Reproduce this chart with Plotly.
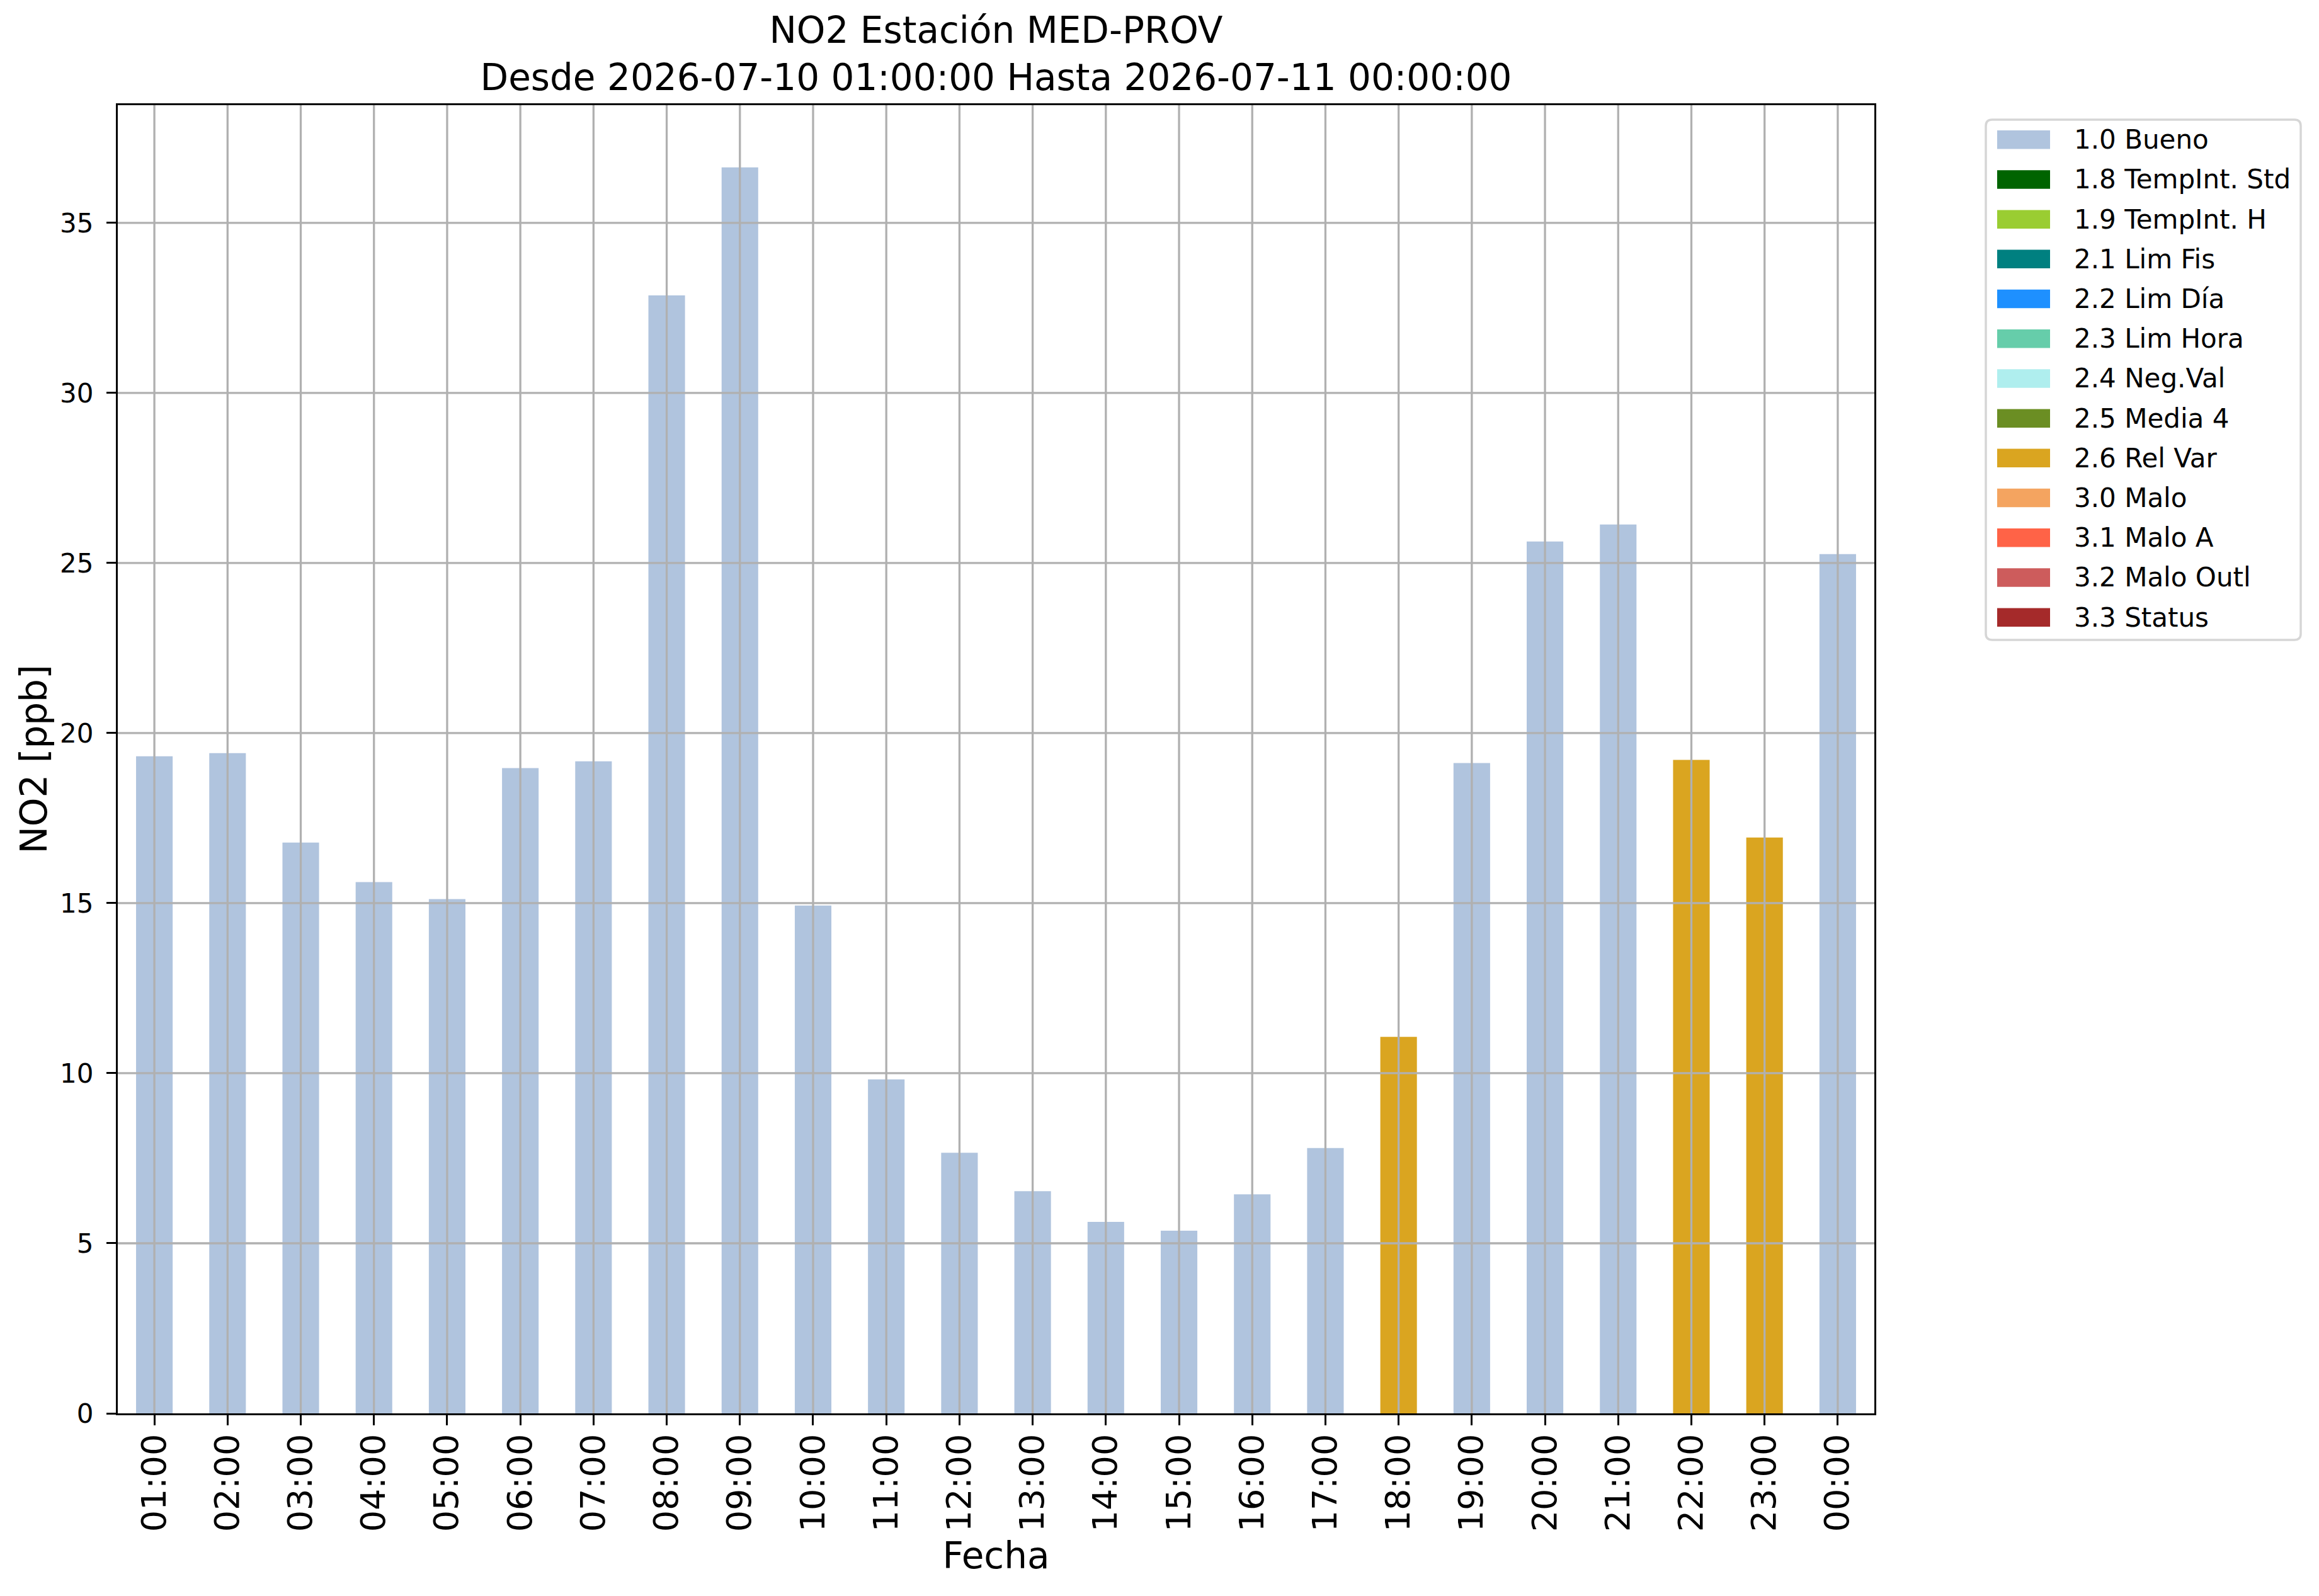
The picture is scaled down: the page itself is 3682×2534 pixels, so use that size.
import plotly.graph_objects as go

# ---------------- data ----------------
hours = ["01:00", "02:00", "03:00", "04:00", "05:00", "06:00", "07:00", "08:00",
         "09:00", "10:00", "11:00", "12:00", "13:00", "14:00", "15:00", "16:00",
         "17:00", "18:00", "19:00", "20:00", "21:00", "22:00", "23:00", "00:00"]
no2_ppb = [19.32, 19.41, 16.78, 15.62, 15.12, 18.97, 19.17, 32.87,
           36.63, 14.93, 9.82, 7.66, 6.53, 5.63, 5.37, 6.44,
           7.80, 11.07, 19.12, 25.63, 26.13, 19.21, 16.93, 25.26]
flags = ["1.0 Bueno", "1.0 Bueno", "1.0 Bueno", "1.0 Bueno", "1.0 Bueno", "1.0 Bueno",
         "1.0 Bueno", "1.0 Bueno", "1.0 Bueno", "1.0 Bueno", "1.0 Bueno", "1.0 Bueno",
         "1.0 Bueno", "1.0 Bueno", "1.0 Bueno", "1.0 Bueno", "1.0 Bueno", "2.6 Rel Var",
         "1.0 Bueno", "1.0 Bueno", "1.0 Bueno", "2.6 Rel Var", "2.6 Rel Var", "1.0 Bueno"]

flag_labels = ["1.0 Bueno", "1.8 TempInt. Std", "1.9 TempInt. H", "2.1 Lim Fis",
               "2.2 Lim Día", "2.3 Lim Hora", "2.4 Neg.Val", "2.5 Media 4",
               "2.6 Rel Var", "3.0 Malo", "3.1 Malo A", "3.2 Malo Outl", "3.3 Status"]
flag_colors = ["#B0C4DE", "#006400", "#9ACD32", "#008080",
               "#1E90FF", "#66CDAA", "#AFEEEE", "#6B8E23",
               "#DAA520", "#F4A460", "#FF6347", "#CD5C5C", "#A52A2A"]

y_ticks = [0, 5, 10, 15, 20, 25, 30, 35]
y_max = 38.46

title_text = "NO2 Estación MED-PROV<br>Desde 2026-07-10 01:00:00 Hasta 2026-07-11 00:00:00"
x_title = "Fecha"
y_title = "NO2 [ppb]"

# ---------------- layout constants (pixels) ----------------
W, H = 3682, 2534
PL, PR, PT, PB = 187, 2976, 167, 2244   # plot area
FONT = "DejaVu Sans"
GRID = "#b0b0b0"
LW = 3.3

def px_x(px):
    return (px - PL) / (PR - PL)

def px_y(py):
    return (PB - py) / (PB - PT)

color_map = dict(zip(flag_labels, flag_colors))

fig = go.Figure()
fig.add_trace(go.Bar(
    x=hours, y=no2_ppb, width=0.5,
    marker=dict(color=[color_map[f] for f in flags], line=dict(width=0)),
    showlegend=False, hovertext=flags,
))

shapes = []
# grid lines drawn above the bars (as in matplotlib)
for i in range(len(hours)):
    shapes.append(dict(type="line", xref="x", yref="paper", x0=i, x1=i, y0=0, y1=1,
                       line=dict(color=GRID, width=LW), layer="above"))
for t in y_ticks:
    if 0 < t < y_max:
        shapes.append(dict(type="line", xref="paper", yref="y", x0=0, x1=1, y0=t, y1=t,
                           line=dict(color=GRID, width=LW), layer="above"))

# manual legend (matplotlib style)
fx0, fx1, fy0, fy1, r = 3153, 3653, 190, 1016, 10
pts = [("M", fx0 + r, fy0), ("L", fx1 - r, fy0), ("Q", fx1, fy0, fx1, fy0 + r),
       ("L", fx1, fy1 - r), ("Q", fx1, fy1, fx1 - r, fy1), ("L", fx0 + r, fy1),
       ("Q", fx0, fy1, fx0, fy1 - r), ("L", fx0, fy0 + r), ("Q", fx0, fy0, fx0 + r, fy0)]
path = ""
for p in pts:
    cmd = p[0]
    coords = p[1:]
    seg = []
    for k in range(0, len(coords), 2):
        seg.append(f"{px_x(coords[k]):.6f},{px_y(coords[k+1]):.6f}")
    path += cmd + " ".join(seg) + " "
path += "Z"
shapes.append(dict(type="path", xref="paper", yref="paper", path=path,
                   line=dict(color="#d6d6d6", width=3.5), fillcolor="white", layer="above"))

annotations = []
row_h = 63.2
for i, (lab, col) in enumerate(zip(flag_labels, flag_colors)):
    top = 207 + row_h * i
    shapes.append(dict(type="rect", xref="paper", yref="paper",
                       x0=px_x(3171), x1=px_x(3255), y0=px_y(top), y1=px_y(top + 29.5),
                       fillcolor=col, line=dict(width=0), layer="above"))
    annotations.append(dict(xref="paper", yref="paper", x=px_x(3291), y=px_y(top + 14.75),
                            text=lab, showarrow=False, xanchor="left", yanchor="middle",
                            font=dict(family=FONT, size=42, color="black")))

fig.update_layout(
    template="none",
    width=W, height=H,
    margin=dict(l=PL, r=W - PR, t=PT, b=H - PB, autoexpand=False, pad=0),
    paper_bgcolor="white", plot_bgcolor="white",
    font=dict(family=FONT, color="black"),
    showlegend=False,
    title=dict(text=title_text, x=0.5, xref="paper", xanchor="center",
               y=1 - 68 / H, yref="container", yanchor="middle",
               font=dict(family=FONT, size=58, color="black")),
    xaxis=dict(type="category", range=[-0.5, len(hours) - 0.5], tickangle=-90,
               tickfont=dict(size=54), ticks="outside", ticklen=16, tickwidth=LW,
               tickcolor="black", showline=True, linecolor="black", linewidth=LW,
               mirror=True, showgrid=False, zeroline=False, automargin=False,
               ticklabelstandoff=-8,
               title=dict(text=x_title, font=dict(size=58), standoff=19)),
    yaxis=dict(range=[0, y_max], tickvals=y_ticks, tickfont=dict(size=42),
               ticks="outside", ticklen=15, tickwidth=LW, tickcolor="black",
               showline=True, linecolor="black", linewidth=LW, mirror=True,
               showgrid=False, zeroline=False, automargin=False,
               ticklabelstandoff=12,
               title=dict(text=y_title, font=dict(size=58), standoff=2)),
    shapes=shapes,
    annotations=annotations,
)

fig.write_html("out.html", config={"displayModeBar": False},
               post_script="document.body.style.margin='0';document.body.style.overflow='hidden';")
